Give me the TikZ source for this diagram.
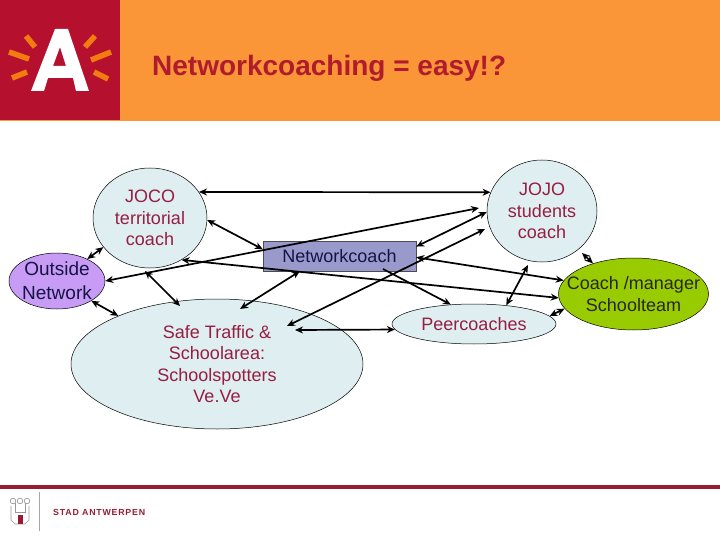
\documentclass[tikz,border=0pt]{standalone}
\usepackage{fontspec}
\setmainfont{Liberation Sans}
\usetikzlibrary{positioning,arrows.meta,calc,shapes.geometric}
\definecolor{cityred}{RGB}{181,17,47}
\definecolor{bandorange}{RGB}{250,150,55}
\definecolor{rayorange}{RGB}{243,124,16}
\definecolor{titlered}{RGB}{176,28,46}
\definecolor{blobblue}{RGB}{222,238,241}
\definecolor{blobpurple}{RGB}{200,155,245}
\definecolor{blobgreen}{RGB}{153,204,0}
\definecolor{boxblue}{RGB}{153,153,204}
\definecolor{wordred}{RGB}{150,30,65}
\definecolor{wordnavy}{RGB}{20,20,70}
\definecolor{footred}{RGB}{150,28,50}
\tikzset{
  blob/.style={ellipse,draw=black,line width=0.5pt,inner sep=-15pt,align=center,font=\fontsize{18}{21.6}\selectfont},
  link/.style={<->,line width=1.7pt},
  ray/.style={rayorange,line width=5.5pt},
  crest/.style={black!40,line width=0.7pt}
}

\begin{document}
\begin{tikzpicture}[x=1pt,y=-1pt,>={Stealth[length=8pt,width=7pt]}]
  \useasboundingbox (0,0) rectangle (720,540);
  % header band with logo
  \fill[bandorange] (0,0) rectangle (720,121);
  \fill[cityred] (0,0) rectangle (120,120);
  \fill[white,even odd rule] (31,91) -- (55,29) -- (68,29) -- (89,91) -- (76,91) -- (73,78)
     -- (48,78) -- (44,91) -- cycle (60,47) -- (66,66) -- (53,66) -- cycle;
  \foreach \ax/\ay/\bx/\by in {26/36/35/47, 9/52/29/59, 12/78/27/72, 95/36/85/47, 111/52/91/60, 94/72/108/79}
    \draw[ray] (\ax,\ay) -- (\bx,\by);
  \node[anchor=base west,inner sep=0pt,text=titlered,font=\fontsize{28}{32}\selectfont\bfseries] (title) at (152,76) {Networkcoaching = easy!?};
  % the people
  \node[blob,fill=blobblue,minimum width=114pt,minimum height=100pt,text=wordred] (joco) at (150,218) {JOCO\\territorial\\coach};
  \node[blob,fill=blobpurple,minimum width=96pt,minimum height=56pt,text=wordnavy,font=\fontsize{19}{24}\selectfont] (outside) at (57,281) {Outside\\Network};
  \node[blob,fill=blobblue,minimum width=292pt,minimum height=130pt,text=wordred] (safe) at (217,364) {Safe Traffic \&\\Schoolarea:\\Schoolspotters\\Ve.Ve};
  \node[draw=black!70,fill=boxblue,minimum width=153pt,minimum height=30pt,inner sep=0pt,text=wordnavy,font=\fontsize{18}{20}\selectfont] (nc) at (339.5,256) {Networkcoach};
  \node[blob,fill=blobblue,minimum width=110pt,minimum height=102pt,text=wordred] (jojo) at (542,211) {JOJO\\students\\coach};
  \node[blob,fill=blobgreen,minimum width=150pt,minimum height=72pt,text=black!85] (manager) at (633.5,294) {Coach /manager\\Schoolteam};
  \node[blob,fill=blobblue,minimum width=164pt,minimum height=40pt,text=wordred] (peer) at (474,324) {Peercoaches};
  % connectors
  \draw[link] (joco.28) -- (jojo.160);
  \draw[link] (joco.-2) -- (nc.175);
  \draw[link] (joco.-53) -- (manager.183);
  \draw[link] (joco.212) -- (outside.36);
  \draw[link] ($(joco.center)+(-5,53)$) -- ($(safe.center)+(-37,-58)$);
  \draw[link] (outside.0) -- ($(jojo.center)+(-63,-3)$);
  \draw[link] (outside.-30) -- (safe.154);
  \draw[link] (nc.201) -- ($(safe.center)+(23,-55)$);
  \draw[link] ($(safe.center)+(70,-38)$) -- ($(jojo.center)+(-57,18)$);
  \draw[link] ($(safe.center)+(78,-34)$) -- (peer.184);
  \draw[link] (nc.7) -- (jojo.181);
  \draw[link] (nc.-1) -- (manager.169);
  \draw[->,line width=1.7pt] ($(nc.center)+(43.5,13)$) -- (peer.140);
  \draw[link] (peer.30) -- ($(jojo.center)+(-14,54)$);
  \draw[link] (peer.6) -- (manager.192);
  \draw[link] ($(jojo.center)+(40,42)$) -- (manager.143);
  % footer
  \fill[footred] (0,485) rectangle (720,488.5);
  \draw[black!35,line width=0.6pt] (39,492) -- (39,531);
  \draw[crest] (11,506) -- (11,520) -- (15,524) -- (25,524) -- (29,520) -- (29,506);
  \draw[crest] (15,503) -- (15,512) -- (25,512) -- (25,503);
  \foreach \cx in {13,20,27} \draw[crest] (\cx,501) circle (2.8);
  \fill[footred] (18,515) rectangle (22.5,524);
  \node[anchor=base west,inner sep=0pt,text=footred,font=\fontsize{8.8}{10}\selectfont\bfseries\addfontfeatures{LetterSpace=9}] (city) at (53,515) {STAD ANTWERPEN};
\end{tikzpicture}
\end{document}
